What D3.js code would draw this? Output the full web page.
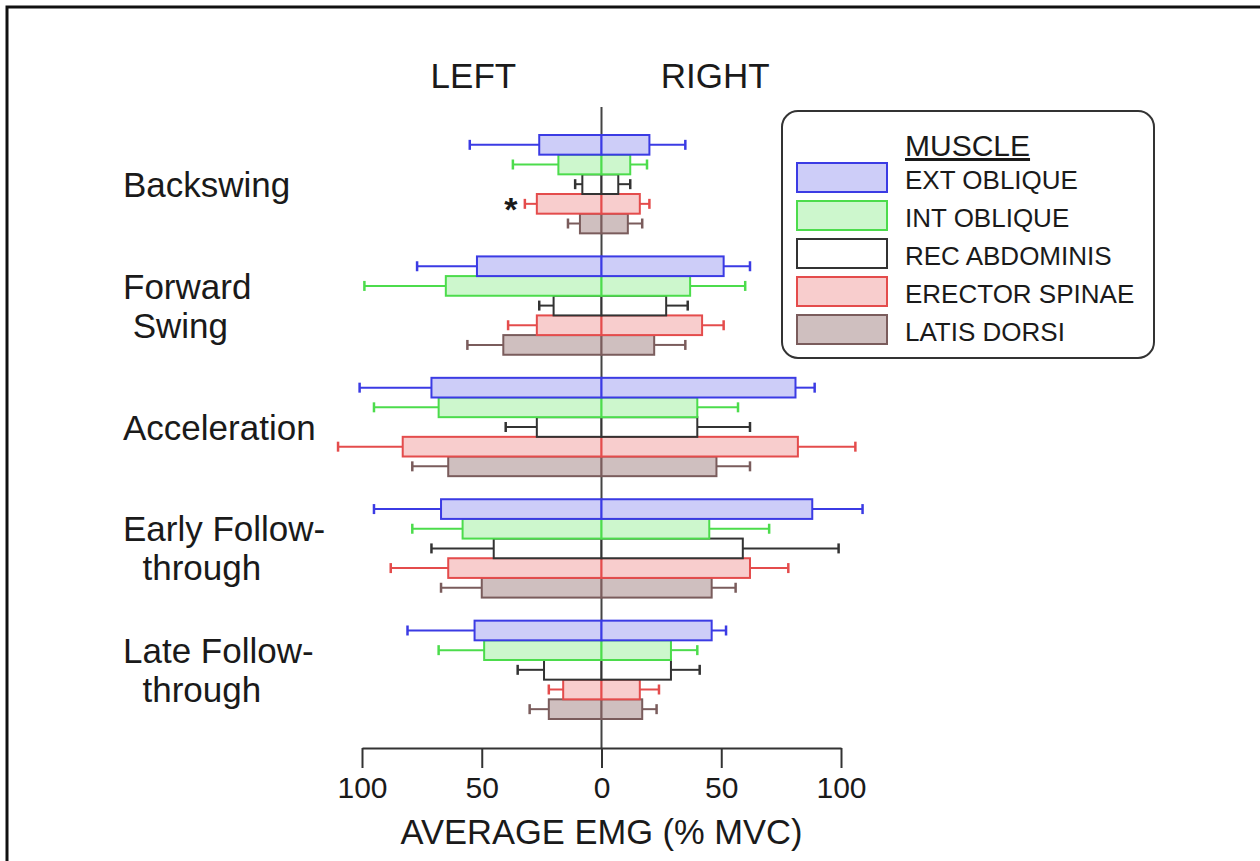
<!DOCTYPE html>
<html>
<head>
<meta charset="utf-8">
<script src="https://cdn.jsdelivr.net/npm/d3@7"></script>
<style>
  body { margin: 0; background: #fff; }
  text { font-family: "Liberation Sans", Arial, sans-serif; fill: #1a1a1a; }
</style>
</head>
<body>
<script>
var width = 1260;
var height = 861;

// phases (rows) and muscles (bars inside a row)
var phases = ["Backswing", "Forward Swing", "Acceleration", "Early Follow-through", "Late Follow-through"];
var phaseLines = [["Backswing"], ["Forward", " Swing"], ["Acceleration"], ["Early Follow-", "  through"], ["Late Follow-", "  through"]];
var muscles = ["EXT OBLIQUE", "INT OBLIQUE", "REC ABDOMINIS", "ERECTOR SPINAE", "LATIS DORSI"];
var strokes = ["#3b3be4", "#4cdc4c", "#333333", "#e44c4c", "#7a5c5c"];
var fills = ["#cdcdf8", "#cdf7cd", "#ffffff", "#f8cdcd", "#cfbfbf"];

// mean % MVC, one row per phase, columns in muscle order
var leftMean = [
  [26, 18, 8, 27, 9],
  [52, 65, 20, 27, 41],
  [71, 68, 27, 83, 64],
  [67, 58, 45, 64, 50],
  [53, 49, 24, 16, 22]
];
// end of error bar (mean + SD)
var leftErr = [
  [55, 37, 11, 32, 14],
  [77, 99, 26, 39, 56],
  [101, 95, 40, 110, 79],
  [95, 79, 71, 88, 67],
  [81, 68, 35, 22, 30]
];
var rightMean = [
  [20, 12, 7, 16, 11],
  [51, 37, 27, 42, 22],
  [81, 40, 40, 82, 48],
  [88, 45, 59, 62, 46],
  [46, 29, 29, 16, 17]
];
var rightErr = [
  [35, 19, 12, 20, 17],
  [62, 60, 36, 51, 35],
  [89, 57, 62, 106, 62],
  [109, 70, 99, 78, 56],
  [52, 40, 41, 24, 23]
];
var majorTicks = [-100, -50, 0, 50, 100];
var minorTicks = [-75, -25, 25, 75];

var svg = d3.select("body").append("svg")
    .attr("width", width)
    .attr("height", height);

svg.append("rect").attr("width", width).attr("height", height).attr("fill", "#fff");

// outer frame (only left and top edges are inside the picture)
svg.append("path")
    .attr("d", "M7," + height + "V7H" + width)
    .attr("fill", "none")
    .attr("stroke", "#111")
    .attr("stroke-width", 3);

var x = d3.scaleLinear().domain([-100, 100]).range([362, 841]);
var y = d3.scaleBand().domain(phases).range([135, 719]).paddingInner(0.19);
var yInner = d3.scaleBand().domain(muscles).range([0, y.bandwidth()]);
var axisY = 748;

// zero line
svg.append("line")
    .attr("x1", x(0)).attr("x2", x(0))
    .attr("y1", 107).attr("y2", axisY)
    .attr("stroke", "#444").attr("stroke-width", 2);

// axis
var axisG = svg.append("g").attr("transform", "translate(0," + axisY + ")");
axisG.call(d3.axisBottom(x).tickValues(minorTicks).tickSize(12).tickSizeOuter(0).tickFormat(""));
axisG.call(d3.axisBottom(x).tickValues(majorTicks).tickSize(20).tickSizeOuter(0).tickPadding(9)
    .tickFormat(function(d) { return Math.abs(d); }));
axisG.selectAll("path.domain").attr("stroke", "#333").attr("stroke-width", 2);
axisG.selectAll(".tick line").attr("stroke", "#333").attr("stroke-width", 2);
axisG.selectAll(".tick text")
    .attr("font-size", 30)
    .attr("font-family", "Liberation Sans, Arial, sans-serif")
    .attr("fill", "#1a1a1a");

svg.append("text")
    .attr("x", x(0)).attr("y", 844)
    .attr("text-anchor", "middle")
    .attr("font-size", 34.5)
    .text("AVERAGE EMG (% MVC)");

svg.append("text").attr("x", x(-53.5)).attr("y", 88)
    .attr("text-anchor", "middle").attr("font-size", 35).text("LEFT");
svg.append("text").attr("x", x(47.5)).attr("y", 88)
    .attr("text-anchor", "middle").attr("font-size", 35).text("RIGHT");

// phase labels
phases.forEach(function(p, i) {
  var c = y(p) + y.bandwidth() / 2;
  var lines = phaseLines[i];
  lines.forEach(function(l, j) {
    svg.append("text")
        .attr("x", 123)
        .attr("y", lines.length == 1 ? c + 13 : c - 7 + j * 39)
        .attr("font-size", 35)
        .style("white-space", "pre")
        .text(l);
  });
});

// bars, bottom muscle first so upper bars' edges stay on top
var rows = [];
phases.forEach(function(p, i) {
  muscles.forEach(function(m, j) {
    rows.push({ phase: p, muscle: m, k: j, lm: leftMean[i][j], le: leftErr[i][j], rm: rightMean[i][j], re: rightErr[i][j] });
  });
});
rows.sort(function(a, b) { return b.k - a.k; });

var bar = svg.selectAll(".bar")
    .data(rows)
    .enter().append("g")
    .attr("class", "bar")
    .attr("transform", function(d) { return "translate(0," + (y(d.phase) + yInner(d.muscle)) + ")"; });

var bh = yInner.bandwidth();

function errBar(g, x0, x1, color) {
  g.append("line").attr("x1", x0).attr("x2", x1).attr("y1", bh / 2).attr("y2", bh / 2)
      .attr("stroke", color).attr("stroke-width", 2);
  g.append("line").attr("x1", x1).attr("x2", x1).attr("y1", bh / 2 - 5).attr("y2", bh / 2 + 5)
      .attr("stroke", color).attr("stroke-width", 2.5);
}

bar.each(function(d) {
  var g = d3.select(this);
  var col = strokes[d.k];
  errBar(g, x(-d.lm), x(-d.le), col);
  errBar(g, x(d.rm), x(d.re), col);
  g.append("rect")
      .attr("x", x(-d.lm)).attr("width", x(0) - x(-d.lm))
      .attr("y", 0).attr("height", bh)
      .attr("fill", fills[d.k]).attr("stroke", col).attr("stroke-width", 2);
  g.append("rect")
      .attr("x", x(0)).attr("width", x(d.rm) - x(0))
      .attr("y", 0).attr("height", bh)
      .attr("fill", fills[d.k]).attr("stroke", col).attr("stroke-width", 2);
});

// significance mark on backswing erector spinae
svg.append("text")
    .attr("x", x(-leftErr[0][3]) - 14)
    .attr("y", y(phases[0]) + yInner(muscles[3]) + bh / 2 + 17)
    .attr("text-anchor", "middle")
    .attr("font-size", 34)
    .attr("font-weight", "bold")
    .text("*");

// legend
var legend = svg.append("g");
legend.append("rect")
    .attr("x", 782).attr("y", 111).attr("width", 372).attr("height", 247)
    .attr("rx", 16)
    .attr("fill", "#fff").attr("stroke", "#333").attr("stroke-width", 2);
legend.append("text")
    .attr("x", 905).attr("y", 156)
    .attr("font-size", 30)
    .attr("text-decoration", "underline")
    .text("MUSCLE");
muscles.forEach(function(m, i) {
  legend.append("rect")
      .attr("x", 797).attr("y", 163 + i * 38)
      .attr("width", 90).attr("height", 29)
      .attr("fill", fills[i]).attr("stroke", strokes[i]).attr("stroke-width", 2);
  legend.append("text")
      .attr("x", 905).attr("y", 189 + i * 38)
      .attr("font-size", 26)
      .text(m);
});
</script>
</body>
</html>
